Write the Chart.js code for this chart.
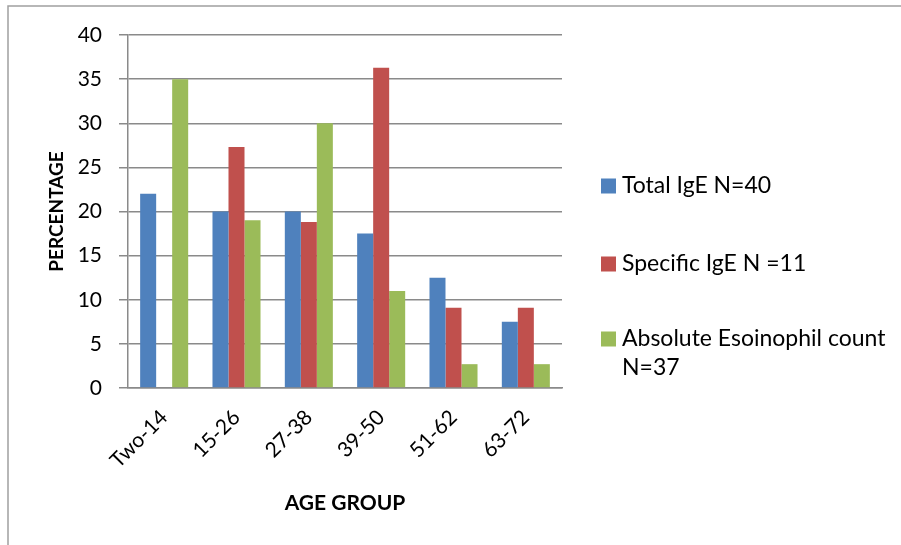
<!DOCTYPE html>
<html>
<head>
<meta charset="utf-8">
<script src="https://cdn.jsdelivr.net/npm/chart.js@4/dist/chart.umd.min.js"></script>
<style>
  html, body { margin: 0; padding: 0; background: #fff; }
  #wrap { width: 901px; height: 545px; position: relative; }
</style>
</head>
<body>
<div id="wrap"><canvas id="c" width="901" height="545"></canvas></div>
<script>
// Age groups on the x axis
const categories = ['Two-14', '15-26', '27-38', '39-50', '51-62', '63-72'];
// Percentage of patients per age group for each marker
const totalIgE = [22, 20, 20, 17.5, 12.5, 7.5];
const specificIgE = [0, 27.3, 18.8, 36.3, 9.1, 9.1];
const eosinophilCount = [35, 19, 30, 11, 2.7, 2.7];
const seriesNames = ['Total IgE N=40', 'Specific IgE N =11', 'Absolute Esoinophil count\nN=37'];
const yTicks = [0, 5, 10, 15, 20, 25, 30, 35, 40];

const FONT = 'Lato, "Open Sans", sans-serif';
const GRID = '#8a8a8a';

// Frame, axis titles and the side legend
const decor = {
  id: 'decor',
  afterDraw(chart) {
    const ctx = chart.ctx;
    const area = chart.chartArea;
    ctx.save();
    // outer frame (top and left edges)
    ctx.strokeStyle = '#a0a0a0';
    ctx.lineWidth = 1.5;
    ctx.beginPath();
    ctx.moveTo(8, 545);
    ctx.lineTo(8, 6);
    ctx.lineTo(901, 6);
    ctx.stroke();

    // axis titles
    ctx.fillStyle = '#000';
    ctx.textAlign = 'center';
    ctx.textBaseline = 'middle';
    ctx.font = 'bold 21px ' + FONT;
    ctx.fillText('AGE GROUP', (area.left + area.right) / 2, 503);
    ctx.save();
    ctx.translate(57, (area.top + area.bottom) / 2);
    ctx.rotate(-Math.PI / 2);
    ctx.font = 'bold 19px ' + FONT;
    ctx.fillText('PERCENTAGE', 0, 0);
    ctx.restore();

    // legend
    const rows = [186, 264, 339];
    ctx.font = '23px ' + FONT;
    ctx.textAlign = 'left';
    chart.data.datasets.forEach((ds, i) => {
      const y = rows[i];
      ctx.fillStyle = ds.backgroundColor;
      ctx.fillRect(601, y - 7.5, 15, 15);
      ctx.fillStyle = '#000';
      ds.label.split('\n').forEach((line, k) => {
        ctx.fillText(line, 622, y + k * 29);
      });
    });
    ctx.restore();
  }
};

new Chart(document.getElementById('c'), {
  type: 'bar',
  data: {
    labels: categories,
    datasets: [
      { label: seriesNames[0], data: totalIgE, backgroundColor: '#4F81BD' },
      { label: seriesNames[1], data: specificIgE, backgroundColor: '#C0504D' },
      { label: seriesNames[2], data: eosinophilCount, backgroundColor: '#9BBB59' }
    ]
  },
  options: {
    responsive: false,
    animation: false,
    events: [],
    layout: { padding: { left: 0, right: 339, top: 35, bottom: 0 } },
    datasets: {
      bar: { categoryPercentage: 0.664, barPercentage: 1.0, borderWidth: 0 }
    },
    plugins: {
      legend: { display: false },
      tooltip: { enabled: false },
      title: { display: false }
    },
    scales: {
      x: {
        grid: { display: false, drawTicks: false },
        border: { display: true, color: GRID, width: 1.5 },
        ticks: {
          color: '#000',
          font: { family: FONT, size: 21 },
          minRotation: 45,
          maxRotation: 45,
          padding: 17
        },
        afterFit(scale) { scale.height = 157; }
      },
      y: {
        min: 0,
        max: 40,
        afterBuildTicks(scale) { scale.ticks = yTicks.map(v => ({ value: v })); },
        grid: { color: GRID, lineWidth: 1.5, tickLength: 9, tickColor: GRID },
        border: { display: true, color: GRID, width: 1.5 },
        ticks: {
          color: '#000',
          font: { family: FONT, size: 21 },
          padding: 17
        },
        afterFit(scale) { scale.width = 128; }
      }
    }
  },
  plugins: [decor]
});
</script>
</body>
</html>
